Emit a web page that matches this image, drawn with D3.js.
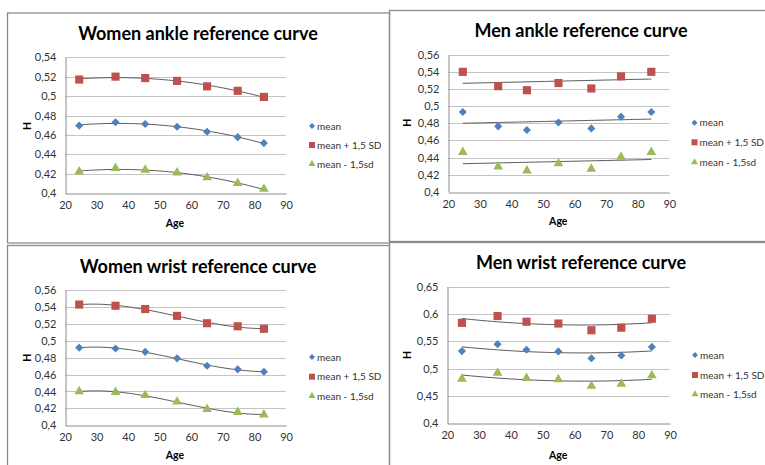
<!DOCTYPE html>
<html>
<head>
<meta charset="utf-8">
<script src="https://cdn.jsdelivr.net/npm/d3@7"></script>
<style>
  html, body { margin: 0; padding: 0; background: #fff; }
  svg { display: block; font-family: Lato, "Open Sans", sans-serif; }
</style>
</head>
<body>
<div id="container"></div>
<script>
// ages of the groups
var womenAge = [24.5, 36, 45.4, 55.5, 65, 74.7, 83];
var menAge = [24.6, 35.8, 44.9, 54.9, 65.3, 74.7, 84.3];

var womenAnkleMean  = [0.4697, 0.4731, 0.4714, 0.4685, 0.4634, 0.4578, 0.4517];
var womenAnklePlus  = [0.5171, 0.5201, 0.5186, 0.5157, 0.5101, 0.5055, 0.4992];
var womenAnkleMinus = [0.4222, 0.4258, 0.4240, 0.4212, 0.4162, 0.4104, 0.4044];

var menAnkleMean  = [0.4933, 0.4765, 0.4722, 0.4810, 0.4741, 0.4878, 0.4933];
var menAnklePlus  = [0.5403, 0.5235, 0.5188, 0.5272, 0.5208, 0.5350, 0.5403];
var menAnkleMinus = [0.4462, 0.4294, 0.4246, 0.4330, 0.4266, 0.4408, 0.4462];

var womenWristMean  = [0.4918, 0.4908, 0.4869, 0.4792, 0.4704, 0.4662, 0.4634];
var womenWristPlus  = [0.5428, 0.5414, 0.5375, 0.5294, 0.5207, 0.5171, 0.5141];
var womenWristMinus = [0.4400, 0.4391, 0.4355, 0.4278, 0.4190, 0.4155, 0.4125];

var menWristMean  = [0.5322, 0.5449, 0.5346, 0.5316, 0.5190, 0.5240, 0.5398];
var menWristPlus  = [0.5839, 0.5963, 0.5859, 0.5826, 0.5703, 0.5750, 0.5914];
var menWristMinus = [0.4813, 0.4923, 0.4826, 0.4802, 0.4683, 0.4722, 0.4875];

var xTicks = [20, 30, 40, 50, 60, 70, 80, 90];
var yTicksA = [0.4, 0.42, 0.44, 0.46, 0.48, 0.5, 0.52, 0.54];
var yTicksB = [0.4, 0.42, 0.44, 0.46, 0.48, 0.5, 0.52, 0.54, 0.56];
var yTicksC = [0.4, 0.45, 0.5, 0.55, 0.6, 0.65];

var seriesNames = ['mean', 'mean + 1,5 SD', 'mean - 1,5sd'];
var colors = ['#4F81BD', '#C0504D', '#9BBB59'];

var panels = [
  { title: 'Women ankle reference curve', age: womenAge,
    series: [womenAnkleMean, womenAnklePlus, womenAnkleMinus], order: 2,
    yTicks: yTicksA, frame: [7, 13, 382, 230],
    plot: [65, 57.3, 286, 193.3], titleX: 198, titleY: 39.5,
    legX: 312, legY: [126, 145, 164], ageY: 226.5, hX: 27, hY: 126 },
  { title: 'Men ankle reference curve', age: menAge,
    series: [menAnkleMean, menAnklePlus, menAnkleMinus], order: 1,
    yTicks: yTicksB, frame: [389, 10.5, 400, 231],
    plot: [448.3, 55, 669.3, 191.7], titleX: 581, titleY: 36.8,
    legX: 694.5, legY: [122.7, 142.3, 162.3], ageY: 225, hX: 407, hY: 122.7 },
  { title: 'Women wrist reference curve', age: womenAge,
    series: [womenWristMean, womenWristPlus, womenWristMinus], order: 3,
    yTicks: yTicksB, frame: [7, 245.5, 382, 240],
    plot: [65, 290, 286, 425.3], titleX: 198, titleY: 272.5,
    legX: 312, legY: [357, 376.7, 396], ageY: 459, hX: 27, hY: 357.7 },
  { title: 'Men wrist reference curve', age: menAge,
    series: [menWristMean, menWristPlus, menWristMinus], order: 2,
    yTicks: yTicksC, frame: [389, 242.5, 400, 240],
    plot: [447.3, 286.7, 670, 423.3], titleX: 581, titleY: 268.5,
    legX: 695, legY: [355, 375, 394.3], ageY: 458.5, hX: 407, hY: 355 }
];

// least squares polynomial, like an Excel trendline
function polyFit(xs, ys, order) {
  var mx = d3.mean(xs);
  var n = order + 1;
  var A = [], b = [];
  for (var i = 0; i < n; i++) {
    A.push(new Array(n).fill(0));
    b.push(0);
  }
  xs.forEach(function(x, k) {
    var t = (x - mx) / 10;
    for (var i = 0; i < n; i++) {
      b[i] += ys[k] * Math.pow(t, i);
      for (var j = 0; j < n; j++) A[i][j] += Math.pow(t, i + j);
    }
  });
  for (var c = 0; c < n; c++) {
    for (var r = c + 1; r < n; r++) {
      var f = A[r][c] / A[c][c];
      for (var j = c; j < n; j++) A[r][j] -= f * A[c][j];
      b[r] -= f * b[c];
    }
  }
  var coef = new Array(n).fill(0);
  for (var r = n - 1; r >= 0; r--) {
    var s = b[r];
    for (var j = r + 1; j < n; j++) s -= A[r][j] * coef[j];
    coef[r] = s / A[r][r];
  }
  return function(x) {
    var t = (x - mx) / 10;
    return coef.reduce(function(acc, c, i) { return acc + c * Math.pow(t, i); }, 0);
  };
}

var svg = d3.select('#container')
  .append('svg')
  .attr('width', 765)
  .attr('height', 465);

function marker(g, kind, size) {
  if (kind === 0) {
    g.append('path').attr('d', d3.symbol(d3.symbolSquare, size * 0.5)())
      .attr('transform', 'rotate(45)');
  } else if (kind === 1) {
    g.append('path').attr('d', d3.symbol(d3.symbolSquare, size)());
  } else {
    g.append('path').attr('d', d3.symbol(d3.symbolTriangle, size * 0.62)());
  }
}

panels.forEach(function(p) {
  var f = p.frame;
  svg.append('rect')
    .attr('x', f[0] + 0.5).attr('y', f[1])
    .attr('width', f[2]).attr('height', f[3])
    .attr('fill', 'none').attr('stroke', '#8c8c8c').attr('stroke-width', 1.3);

  var x = d3.scaleLinear().domain([20, 90]).range([p.plot[0], p.plot[2]]);
  var y = d3.scaleLinear().domain(d3.extent(p.yTicks)).range([p.plot[3], p.plot[1]]);
  var g = svg.append('g');

  // gridlines
  g.selectAll('.grid').data(p.yTicks.slice(1)).enter()
    .append('line')
    .attr('x1', x(20)).attr('x2', x(90))
    .attr('y1', function(d) { return Math.round(y(d)) + 0.5; })
    .attr('y2', function(d) { return Math.round(y(d)) + 0.5; })
    .attr('stroke', '#c4c4c4').attr('stroke-width', 1);

  var yAxis = d3.axisLeft(y).tickValues(p.yTicks).tickSize(0).tickPadding(9)
    .tickFormat(function(d) { return String(+d.toFixed(2)).replace('.', ','); });
  var xAxis = d3.axisBottom(x).tickValues(xTicks).tickSize(0).tickPadding(8);

  var ya = g.append('g').attr('transform', 'translate(' + (Math.round(x(20)) + 0.5) + ',0)').call(yAxis);
  var xa = g.append('g').attr('transform', 'translate(0,' + (Math.round(y(p.yTicks[0])) + 0.5) + ')').call(xAxis);
  [ya, xa].forEach(function(a) {
    a.select('.domain').attr('stroke', '#8c8c8c');
    a.selectAll('text').attr('font-size', 11).attr('fill', '#333')
      .attr('font-family', 'Lato, sans-serif');
  });

  // trendlines
  p.series.forEach(function(vals) {
    var fit = polyFit(p.age, vals, p.order);
    var xs = d3.range(0, 61).map(function(i) {
      return p.age[0] + (p.age[p.age.length - 1] - p.age[0]) * i / 60;
    });
    g.append('path')
      .datum(xs)
      .attr('fill', 'none').attr('stroke', '#595959').attr('stroke-width', 1)
      .attr('d', d3.line().x(function(d) { return x(d); }).y(function(d) { return y(fit(d)); }));
  });

  // points
  p.series.forEach(function(vals, si) {
    vals.forEach(function(v, i) {
      var m = g.append('g')
        .attr('transform', 'translate(' + x(p.age[i]) + ',' + y(v) + ')')
        .attr('fill', colors[si]);
      marker(m, si, 66);
    });
  });

  // legend
  seriesNames.forEach(function(name, si) {
    var m = g.append('g')
      .attr('transform', 'translate(' + p.legX + ',' + p.legY[si] + ')')
      .attr('fill', colors[si]);
    marker(m, si, 36);
    g.append('text')
      .attr('x', p.legX + 5).attr('y', p.legY[si])
      .attr('dy', '0.35em')
      .attr('font-size', 10).attr('fill', '#333')
      .text(name);
  });

  g.append('text')
    .attr('x', p.titleX).attr('y', p.titleY)
    .attr('text-anchor', 'middle')
    .attr('font-size', 18).attr('font-weight', 'bold').attr('fill', '#000')
    .text(p.title);

  g.append('text')
    .attr('x', (p.plot[0] + p.plot[2]) / 2 - 0.5).attr('y', p.ageY)
    .attr('text-anchor', 'middle')
    .attr('font-size', 10.5).attr('font-weight', 'bold').attr('fill', '#000')
    .text('Age');

  g.append('text')
    .attr('transform', 'translate(' + (p.hX + 3.5) + ',' + p.hY + ') rotate(-90)')
    .attr('text-anchor', 'middle')
    .attr('font-size', 10.5).attr('font-weight', 'bold').attr('fill', '#000')
    .text('H');
});
</script>
</body>
</html>
